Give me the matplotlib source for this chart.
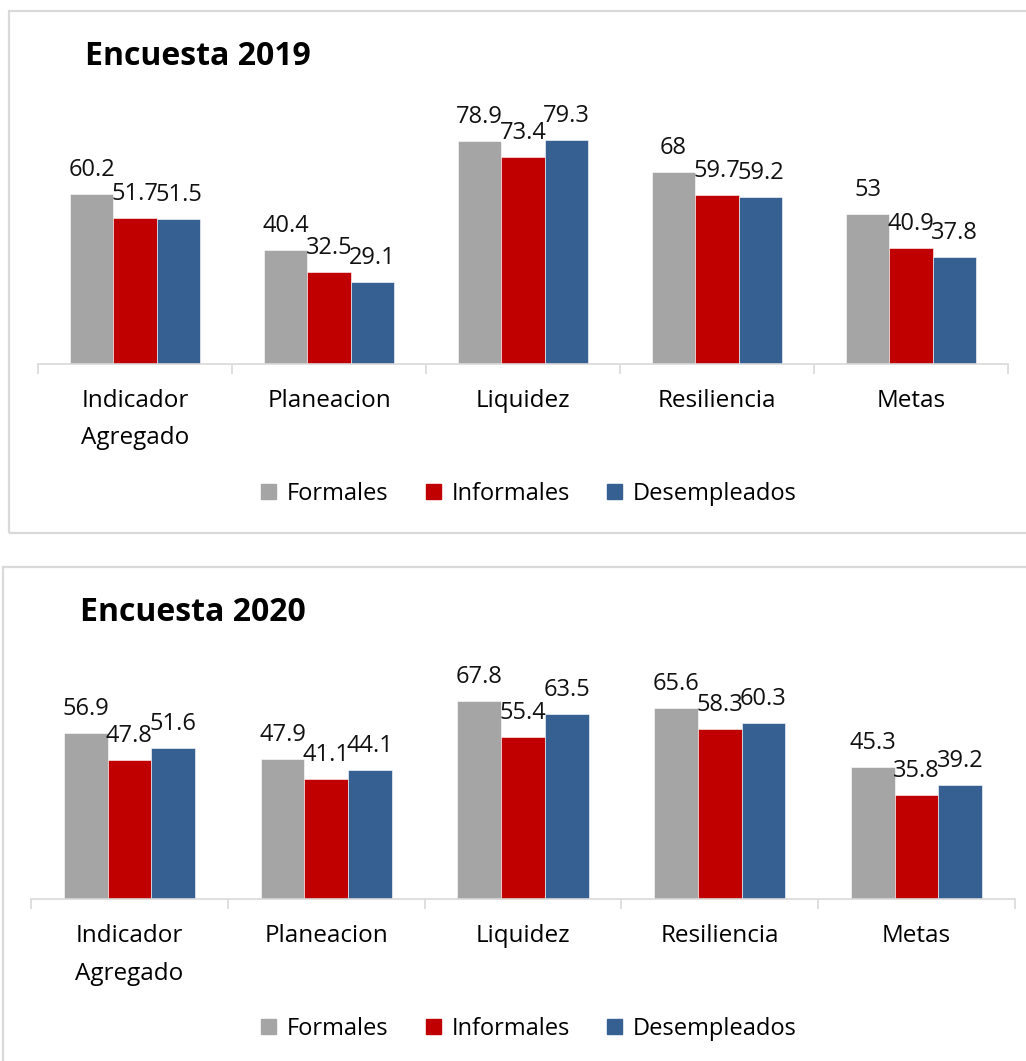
import matplotlib.pyplot as plt
import numpy as np
from matplotlib.patches import Patch, Rectangle

plt.rcParams['font.family'] = ['Open Sans', 'DejaVu Sans']

categories = ['Indicador\nAgregado', 'Planeacion', 'Liquidez', 'Resiliencia', 'Metas']
series = ['Formales', 'Informales', 'Desempleados']
colors = ['#A5A5A5', '#C00000', '#376092']

formales_2019 = [60.2, 40.4, 78.9, 68, 53]
informales_2019 = [51.7, 32.5, 73.4, 59.7, 40.9]
desempleados_2019 = [51.5, 29.1, 79.3, 59.2, 37.8]

formales_2020 = [56.9, 47.9, 67.8, 65.6, 45.3]
informales_2020 = [47.8, 41.1, 55.4, 58.3, 35.8]
desempleados_2020 = [51.6, 44.1, 63.5, 60.3, 39.2]

W, H = 1026, 1061
fig = plt.figure(figsize=(W / 100, H / 100), dpi=100)
grid_c = '#D9D9D9'

# panel borders (pixel coords -> figure fraction)
def px_rect(x0, y0, x1, y1):
    return Rectangle((x0 / W, 1 - y1 / H), (x1 - x0) / W, (y1 - y0) / H,
                     transform=fig.transFigure, fill=False, ec=grid_c, lw=1.6)

fig.patches.append(px_rect(8.5, 10.5, 1030, 533))
fig.patches.append(px_rect(3, 567, 1030, 1070))


def draw_panel(rect, data, bw, title, title_xy, legend_y):
    ax = fig.add_axes(rect)
    x = np.arange(len(categories))
    for i, (vals, c) in enumerate(zip(data, colors)):
        pos = x + (i - 1) * bw
        ax.bar(pos, vals, width=bw, color=c, edgecolor='white', linewidth=0.4)
        for xp, v in zip(pos, vals):
            ax.annotate(f'{v:g}', (xp, v), xytext=(0, 13), textcoords='offset points',
                        ha='center', va='baseline', fontsize=17, color='#111111')
    ax.set_xlim(-0.5, len(categories) - 0.5)
    ax.set_ylim(0, 100)
    for s in ['top', 'left', 'right']:
        ax.spines[s].set_visible(False)
    ax.spines['bottom'].set_color(grid_c)
    ax.spines['bottom'].set_linewidth(1.2)
    ax.set_yticks([])
    ax.set_xticks(np.arange(len(categories) + 1) - 0.5)
    ax.set_xticklabels([])
    ax.tick_params(axis='x', which='major', length=7, width=1.2, color=grid_c)
    ax.set_xticks(x, minor=True)
    ax.set_xticklabels(categories, minor=True, fontsize=17.5, linespacing=1.75)
    ax.tick_params(axis='x', which='minor', length=0, pad=18)
    fig.text(title_xy[0] / W, 1 - title_xy[1] / H, title, fontsize=23,
             fontweight='bold', ha='left', va='baseline')
    handles = [Patch(color=c, label=s) for c, s in zip(colors, series)]
    fig.legend(handles=handles, loc='center', ncol=3, frameon=False, fontsize=17,
               bbox_to_anchor=(529 / W, 1 - (legend_y + 2) / H), handlelength=0.62,
               handleheight=0.62, handletextpad=0.45, columnspacing=1.6)
    return ax


# top panel: baseline 364 px, 2.824 px per unit
draw_panel([38 / W, (H - 364) / H, 970 / W, 282.4 / H],
           [formales_2019, informales_2019, desempleados_2019], 0.224,
           'Encuesta 2019', (85, 65), 492)

# bottom panel: baseline 899 px, 2.917 px per unit
draw_panel([31 / W, (H - 899) / H, 984 / W, 291.7 / H],
           [formales_2020, informales_2020, desempleados_2020], 0.222,
           'Encuesta 2020', (80, 621), 1027)

fig.savefig('out.png', dpi=100)
